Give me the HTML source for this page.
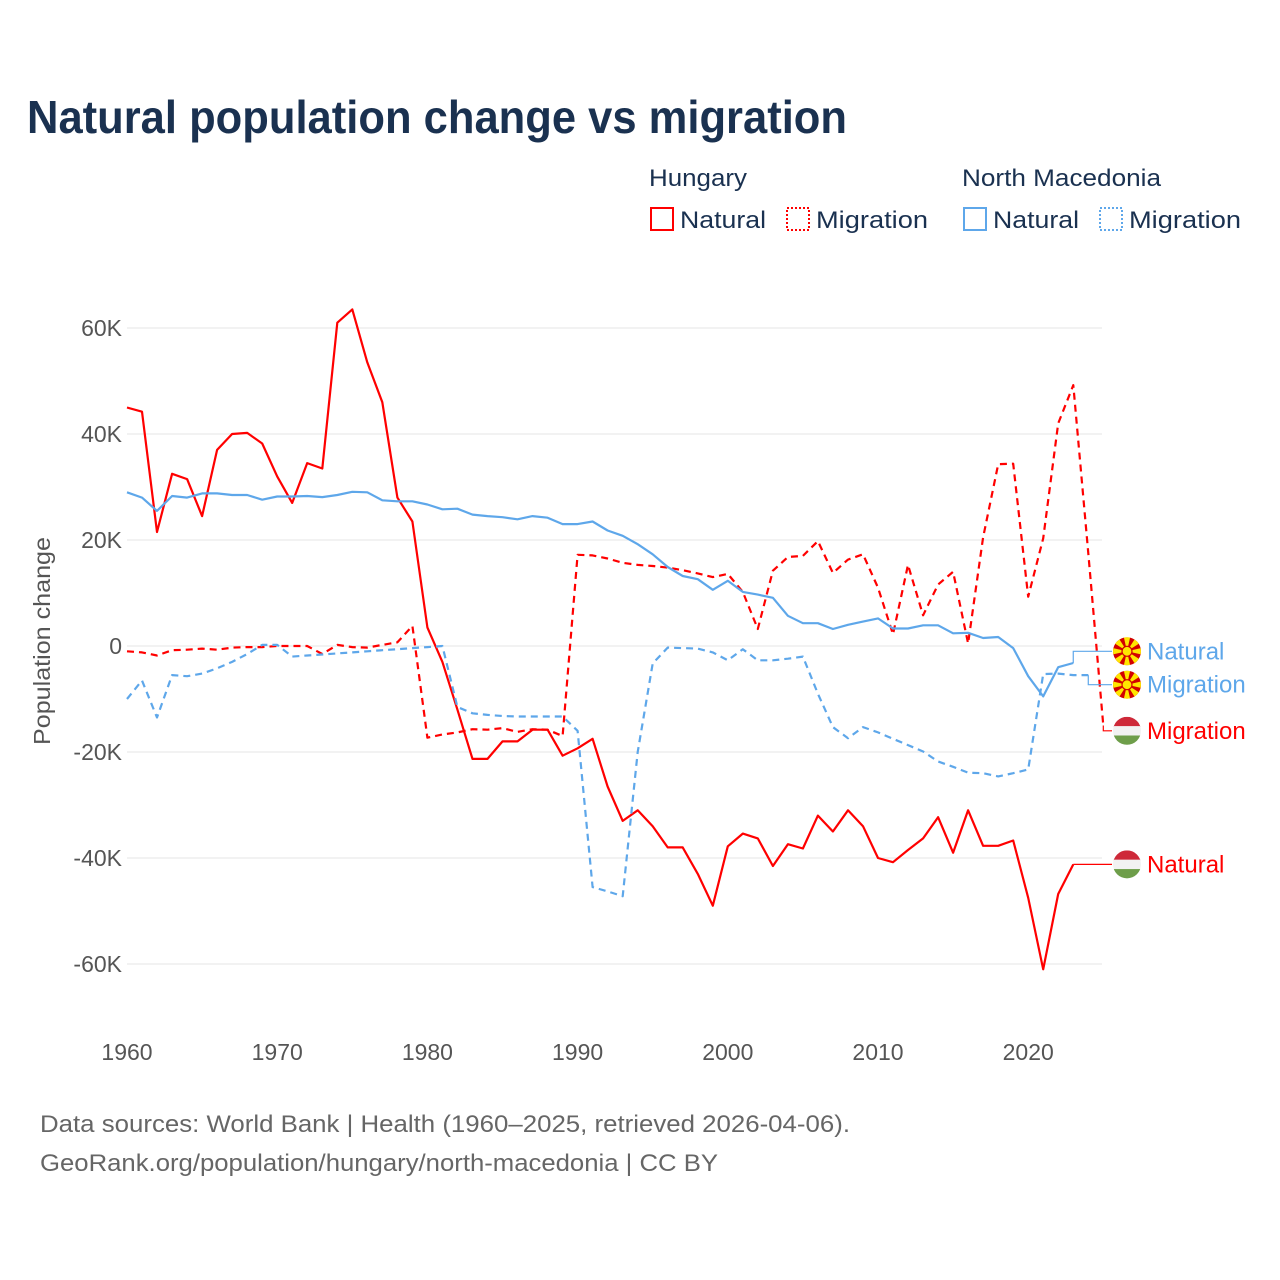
<!DOCTYPE html>
<html><head><meta charset="utf-8"><style>
html,body{margin:0;padding:0;background:#fff}
svg{display:block;font-family:"Liberation Sans",sans-serif}
</style></head><body>
<svg id="chart" width="1280" height="1280" viewBox="0 0 1280 1280">
<text x="27" y="133" font-size="46" font-weight="bold" fill="#1a3150" textLength="820" lengthAdjust="spacingAndGlyphs">Natural population change vs migration</text>
<g>
<text x="649" y="186" font-size="24" fill="#1a3150" textLength="98" lengthAdjust="spacingAndGlyphs">Hungary</text>
<text x="962" y="186" font-size="24" fill="#1a3150" textLength="199" lengthAdjust="spacingAndGlyphs">North Macedonia</text>
<g><rect x="651" y="208" width="22" height="22" fill="none" stroke="#ff0000" stroke-width="2"/><text x="680" y="228" font-size="24" fill="#1a3150" textLength="86" lengthAdjust="spacingAndGlyphs">Natural</text></g>
<g><rect x="787" y="208" width="22" height="22" fill="none" stroke="#ff0000" stroke-width="2" stroke-dasharray="2,2"/><text x="816" y="228" font-size="24" fill="#1a3150" textLength="112" lengthAdjust="spacingAndGlyphs">Migration</text></g>
<g><rect x="964" y="208" width="22" height="22" fill="none" stroke="#5ea7ea" stroke-width="2"/><text x="993" y="228" font-size="24" fill="#1a3150" textLength="86" lengthAdjust="spacingAndGlyphs">Natural</text></g>
<g><rect x="1100" y="208" width="22" height="22" fill="none" stroke="#5ea7ea" stroke-width="2" stroke-dasharray="2,2"/><text x="1129" y="228" font-size="24" fill="#1a3150" textLength="112" lengthAdjust="spacingAndGlyphs">Migration</text></g>
</g>
<g id="grid"></g>
<g id="yticks"></g>
<g id="xticks"></g>
<text transform="translate(50,641) rotate(-90)" text-anchor="middle" font-size="23" fill="#555" textLength="208" lengthAdjust="spacingAndGlyphs">Population change</text>
<g id="series"></g>
<g id="labels"></g>
<text x="40" y="1132" font-size="24" fill="#666" textLength="810" lengthAdjust="spacingAndGlyphs">Data sources: World Bank | Health (1960–2025, retrieved 2026-04-06).</text>
<text x="40" y="1171" font-size="24" fill="#666" textLength="678" lengthAdjust="spacingAndGlyphs">GeoRank.org/population/hungary/north-macedonia | CC BY</text>
</svg>
<script>
const yTickValues = [60, 40, 20, 0, -20, -40, -60];
const yTickLabels = ["60K", "40K", "20K", "0", "-20K", "-40K", "-60K"];
const xTickYears = [1960, 1970, 1980, 1990, 2000, 2010, 2020];
const startYear = 1960;
const huNatural = [45,44.2,21.5,32.5,31.5,24.5,37,40,40.2,38.2,32,27,34.5,33.5,61,63.5,53.5,46,28,23.5,3.5,-3,-12,-21.3,-21.3,-18,-18,-15.8,-15.8,-20.7,-19.3,-17.5,-26.5,-33,-31,-34,-38,-38,-43,-49,-37.8,-35.4,-36.3,-41.5,-37.4,-38.2,-32,-35,-31,-34,-40,-40.8,-38.5,-36.3,-32.3,-39,-31,-37.7,-37.7,-36.7,-47.5,-61,-46.8,-41.2];
const huMigration = [-1,-1.2,-1.8,-0.8,-0.7,-0.5,-0.7,-0.3,-0.2,-0.2,0,0,0,-1.5,0.2,-0.2,-0.3,0.2,0.7,3.8,-17.3,-16.7,-16.3,-15.7,-15.8,-15.5,-16.2,-15.7,-15.8,-17,17.2,17.1,16.5,15.7,15.3,15.1,14.8,14.3,13.7,13,13.6,10.2,3.2,14.2,16.8,17,19.8,13.8,16.3,17.3,11,2.2,15.3,5.8,11.6,14,0.5,20.5,34.3,34.4,9.3,20.3,42,49.2,17.5,-15];
const mkNatural = [29,28,25.5,28.3,28,28.8,28.8,28.5,28.5,27.6,28.2,28.2,28.3,28.1,28.5,29.1,29,27.5,27.3,27.3,26.7,25.8,25.9,24.8,24.5,24.3,23.9,24.5,24.2,23,23,23.5,21.8,20.8,19.2,17.3,14.9,13.2,12.6,10.6,12.3,10.2,9.7,9.1,5.7,4.3,4.3,3.2,4,4.6,5.2,3.3,3.3,3.9,3.9,2.4,2.5,1.5,1.7,-0.4,-5.7,-9.5,-4,-3.2];
const mkMigration = [-10,-6.5,-13.5,-5.5,-5.7,-5.2,-4.2,-3,-1.5,0.2,0.2,-2,-1.8,-1.6,-1.4,-1.2,-1,-0.8,-0.6,-0.4,-0.2,0,-11.5,-12.7,-13,-13.2,-13.3,-13.3,-13.3,-13.3,-16,-45.5,-46.3,-47.2,-20,-3.3,-0.3,-0.4,-0.5,-1.2,-2.7,-0.6,-2.7,-2.7,-2.4,-2,-9,-15.3,-17.4,-15.3,-16.3,-17.5,-18.7,-19.9,-21.8,-22.8,-23.9,-24,-24.6,-24,-23.3,-5.3,-5.2,-5.5,-5.5];
const seriesNames = ["hungary-natural","hungary-migration","north-macedonia-natural","north-macedonia-migration"];
const labelTexts = ["Natural","Migration","Natural","Migration"];
const labelValues = [-41.2, -16, -1.0, -7.3];

const NS = "http://www.w3.org/2000/svg";
const X = yr => 127 + (yr - 1960) * 15.02;
const Y = v => 646 - v * 5.3;
function mk(tag, attrs, parent){const e=document.createElementNS(NS,tag);for(const k in attrs)e.setAttribute(k,attrs[k]);parent.appendChild(e);return e;}

const grid=document.getElementById('grid'), yt=document.getElementById('yticks'), xt=document.getElementById('xticks');
yTickValues.forEach((v,i)=>{
  const l=mk('line',{x1:127,x2:1102,y1:Y(v),y2:Y(v),stroke:'#e6e6e6','stroke-width':1},grid);
  
  
  const t=mk('text',{x:122,y:Y(v)+8,'text-anchor':'end','font-size':23,fill:'#555'},yt);
  t.textContent=yTickLabels[i];
  
  
});
xTickYears.forEach(yr=>{
  const t=mk('text',{x:X(yr),y:1060,'text-anchor':'middle','font-size':23,fill:'#555'},xt);
  t.textContent=String(yr);
  
  
});

const sg=document.getElementById('series'), lg=document.getElementById('labels');
const all=[huNatural,huMigration,mkNatural,mkMigration];
const colors=['#ff0000','#ff0000','#5ea7ea','#5ea7ea'];
const dashes=[null,'7,5',null,'7,5'];
all.forEach((arr,i)=>{
  const pts=arr.map((v,j)=>X(startYear+j).toFixed(1)+','+Y(v).toFixed(1));
  const a={points:pts.join(' '),fill:'none',stroke:colors[i],'stroke-width':2.2,'stroke-linejoin':'round'};
  if(dashes[i])a['stroke-dasharray']=dashes[i];
  const p=mk('polyline',a,sg);
  
  
  const lx=X(startYear+arr.length-1), ly=Y(arr[arr.length-1]);
  const ty=Y(labelValues[i]);
  const c=mk('polyline',{points:`${lx},${ly} ${lx},${ty} 1112,${ty}`,fill:'none',stroke:colors[i],'stroke-width':1.2},sg);
  
  
  const g=mk('g',{},lg);
  
  
  const cx=1127, cy=ty;
  if(i<2){
    const cp='hc'+i;
    const cl=mk('clipPath',{id:cp},g); mk('circle',{cx,cy,r:14},cl);
    const f=mk('g',{'clip-path':`url(#${cp})`},g);
    mk('rect',{x:cx-14,y:cy-14,width:28,height:10,fill:'#ce2939'},f);
    mk('rect',{x:cx-14,y:cy-4.7,width:28,height:9.4,fill:'#f2f2f2'},f);
    mk('rect',{x:cx-14,y:cy+4.7,width:28,height:10,fill:'#6e9e4a'},f);
  } else {
    const cp='mc'+i;
    const cl=mk('clipPath',{id:cp},g); mk('circle',{cx,cy,r:14},cl);
    const f=mk('g',{'clip-path':`url(#${cp})`},g);
    mk('rect',{x:cx-14,y:cy-14,width:28,height:28,fill:'#d20000'},f);
    for(let k=0;k<8;k++){
      const ang=k*Math.PI/4, w=0.22;
      const p1=[cx+20*Math.cos(ang-w),cy+20*Math.sin(ang-w)], p2=[cx+20*Math.cos(ang+w),cy+20*Math.sin(ang+w)];
      mk('polygon',{points:`${cx},${cy} ${p1} ${p2}`,fill:'#ffe600'},f);
    }
    mk('circle',{cx,cy,r:5,fill:'#ffe600',stroke:'#d20000','stroke-width':1.2},f);
  }
  const t=mk('text',{x:1147,y:ty+8,'font-size':24,fill:colors[i]},g);
  t.textContent=labelTexts[i];
});
</script>
</body></html>
